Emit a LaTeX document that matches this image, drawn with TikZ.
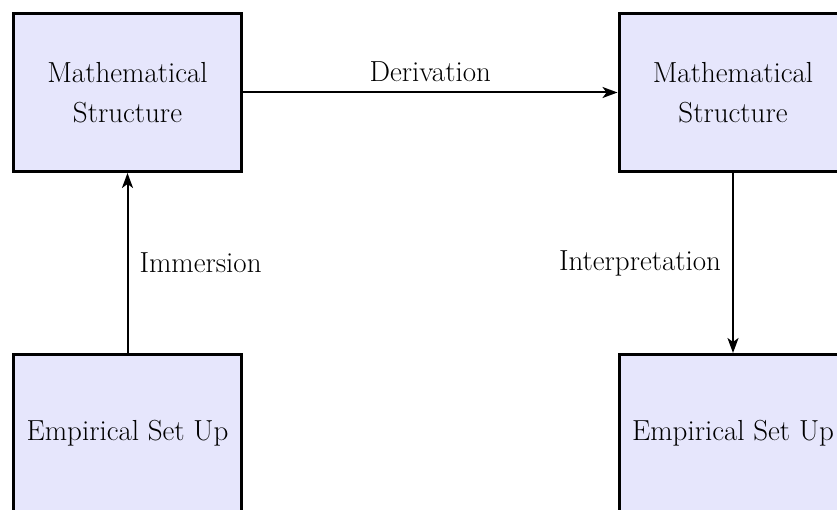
\documentclass[tikz,border=0pt]{standalone}
\usepackage{fontspec}
\usetikzlibrary{arrows.meta}
\definecolor{boxfill}{RGB}{230,230,252}
\tikzset{
  stagebox/.style={draw=black, line width=3pt, fill=boxfill, minimum width=228pt, minimum height=158pt, align=center, inner sep=0pt, font=\fontsize{29pt}{40pt}\selectfont},
  flow/.style={line width=2pt, -{Stealth[length=15pt, width=11pt, inset=4pt]}},
  lbl/.style={font=\fontsize{29pt}{40pt}\selectfont, inner sep=0pt}
}
\begin{document}
\begin{tikzpicture}[x=1pt, y=-1pt]
\useasboundingbox (0,0) rectangle (837,510);
\clip (0,0) rectangle (837,510);
\node[stagebox] (ms1) at (127.5,92.5) {Mathematical\\Structure};
\node[stagebox] (ms2) at (733,92.5) {Mathematical\\Structure};
\node[stagebox] (es1) at (127.5,433.5) {Empirical Set Up};
\node[stagebox] (es2) at (733,433.5) {Empirical Set Up};
\draw[flow] (es1) -- node[lbl, right=11pt] {Immersion} (ms1);
\draw[flow] (ms1) -- node[lbl, above=10pt] {Derivation} (ms2);
\draw[flow] (ms2) -- node[lbl, left=11pt] {Interpretation} (es2);
\end{tikzpicture}
\end{document}
